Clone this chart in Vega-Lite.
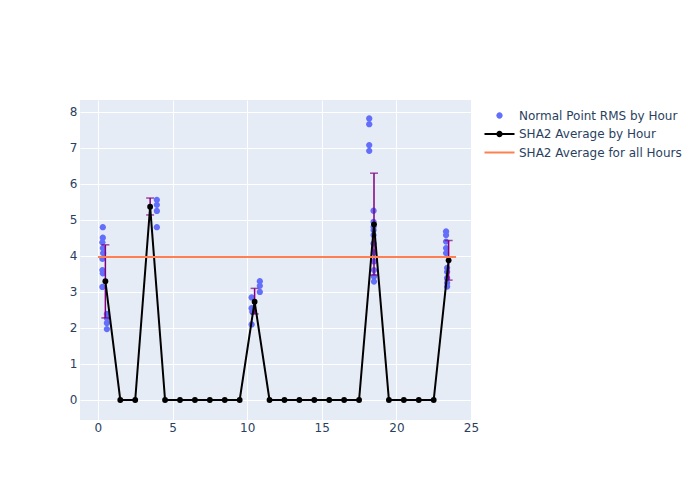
{
  "$schema": "https://vega.github.io/schema/vega-lite/v6.json",
  "width": 391,
  "height": 320,
  "autosize": {"type": "none"},
  "padding": {"left": 80, "top": 100, "right": 229, "bottom": 80},
  "background": "white",
  "config": {
    "view": {"fill": "#e5ecf6", "stroke": null},
    "font": "DejaVu Sans",
    "axis": {
      "domain": false, "ticks": false, "grid": true, "gridColor": "white", "gridWidth": 1, "gridOpacity": 1,
      "labelFont": "DejaVu Sans", "labelFontSize": 12, "labelColor": "#2a3f5f",
      "title": null, "labelOverlap": false
    },
    "legend": {
      "orient": "none", "legendX": 410, "legendY": 6, "title": null,
      "symbolSize": 361, "labelFontSize": 12, "labelColor": "#2a3f5f", "labelFont": "DejaVu Sans",
      "rowPadding": 2.5, "labelOffset": 10, "padding": 0, "symbolStrokeWidth": 0, "symbolOpacity": 1,
      "labelLimit": 300
    }
  },
  "datasets": {
    "points": [
      {"x": 0.33, "y": 4.8}, {"x": 0.33, "y": 4.51}, {"x": 0.3, "y": 4.38}, {"x": 0.33, "y": 4.22},
      {"x": 0.35, "y": 4.08}, {"x": 0.3, "y": 3.92}, {"x": 0.3, "y": 3.61}, {"x": 0.33, "y": 3.52},
      {"x": 0.3, "y": 3.14}, {"x": 0.6, "y": 2.39}, {"x": 0.6, "y": 2.28}, {"x": 0.6, "y": 2.14},
      {"x": 0.6, "y": 1.97},
      {"x": 3.95, "y": 5.56}, {"x": 3.95, "y": 5.42}, {"x": 3.95, "y": 5.25}, {"x": 3.95, "y": 4.8},
      {"x": 10.85, "y": 3.3}, {"x": 10.85, "y": 3.17}, {"x": 10.85, "y": 3.0}, {"x": 10.3, "y": 2.85},
      {"x": 10.3, "y": 2.55}, {"x": 10.35, "y": 2.45}, {"x": 10.3, "y": 2.1},
      {"x": 18.18, "y": 7.82}, {"x": 18.18, "y": 7.66}, {"x": 18.18, "y": 7.08}, {"x": 18.18, "y": 6.92},
      {"x": 18.47, "y": 5.26}, {"x": 18.47, "y": 4.95}, {"x": 18.47, "y": 4.81}, {"x": 18.47, "y": 4.72},
      {"x": 18.47, "y": 4.58}, {"x": 18.47, "y": 4.35}, {"x": 18.5, "y": 4.1}, {"x": 18.5, "y": 3.85},
      {"x": 18.5, "y": 3.61}, {"x": 18.5, "y": 3.43}, {"x": 18.5, "y": 3.29},
      {"x": 23.33, "y": 4.68}, {"x": 23.33, "y": 4.58}, {"x": 23.33, "y": 4.4}, {"x": 23.33, "y": 4.22},
      {"x": 23.33, "y": 4.08}, {"x": 23.4, "y": 3.67}, {"x": 23.4, "y": 3.56}, {"x": 23.4, "y": 3.39},
      {"x": 23.4, "y": 3.25}, {"x": 23.4, "y": 3.15}
    ],
    "avg": [
      {"x": 0.5, "y": 3.3, "lo": 2.28, "hi": 4.31},
      {"x": 1.5, "y": 0}, {"x": 2.5, "y": 0},
      {"x": 3.5, "y": 5.37, "lo": 5.14, "hi": 5.61},
      {"x": 4.5, "y": 0}, {"x": 5.5, "y": 0}, {"x": 6.5, "y": 0}, {"x": 7.5, "y": 0}, {"x": 8.5, "y": 0}, {"x": 9.5, "y": 0},
      {"x": 10.5, "y": 2.73, "lo": 2.39, "hi": 3.1},
      {"x": 11.5, "y": 0}, {"x": 12.5, "y": 0}, {"x": 13.5, "y": 0}, {"x": 14.5, "y": 0}, {"x": 15.5, "y": 0}, {"x": 16.5, "y": 0}, {"x": 17.5, "y": 0},
      {"x": 18.5, "y": 4.88, "lo": 3.47, "hi": 6.3},
      {"x": 19.5, "y": 0}, {"x": 20.5, "y": 0}, {"x": 21.5, "y": 0}, {"x": 22.5, "y": 0},
      {"x": 23.5, "y": 3.88, "lo": 3.33, "hi": 4.43}
    ],
    "overall": [{"x": 0, "y": 3.97}, {"x": 24, "y": 3.97}]
  },
  "encoding": {
    "x": {"type": "quantitative",
          "scale": {"domain": [-1.2, 25], "nice": false, "zero": false},
          "axis": {"values": [0, 5, 10, 15, 20, 25], "labelFlush": false, "grid": true, "labelPadding": 2}},
    "y": {"type": "quantitative",
          "scale": {"domain": [-0.556, 8.333], "nice": false, "zero": false},
          "axis": {"values": [0, 1, 2, 3, 4, 5, 6, 7, 8], "grid": true, "labelPadding": 3}}
  },
  "layer": [
    {
      "data": {"name": "points"},
      "transform": [{"calculate": "'Normal Point RMS by Hour'", "as": "series"}],
      "mark": {"type": "point", "filled": true, "size": 361, "opacity": 1},
      "encoding": {
        "x": {"field": "x"},
        "y": {"field": "y"},
        "color": {
          "field": "series", "type": "nominal",
          "scale": {"domain": ["Normal Point RMS by Hour", "SHA2 Average by Hour", "SHA2 Average for all Hours"],
                    "range": ["#636efa", "black", "#ff7f50"]}
        },
        "shape": {
          "field": "series", "type": "nominal",
          "scale": {"domain": ["Normal Point RMS by Hour", "SHA2 Average by Hour", "SHA2 Average for all Hours"],
                    "range": [
                      "M-0.33,0a0.33,0.33 0 1,1 0.66,0a0.33,0.33 0 1,1 -0.66,0Z",
                      "M-1.58,-0.105L1.58,-0.105L1.58,0.105L-1.58,0.105Z M-0.33,0a0.33,0.33 0 1,1 0.66,0a0.33,0.33 0 1,1 -0.66,0Z",
                      "M-1.58,-0.105L1.58,-0.105L1.58,0.105L-1.58,0.105Z"
                    ]}
        }
      }
    },
    {
      "mark": {"type": "rule", "color": "white", "strokeWidth": 2},
      "encoding": {"y": {"datum": 0}, "x": null}
    },
    {
      "mark": {"type": "rule", "color": "white", "strokeWidth": 2},
      "encoding": {"x": {"datum": 0}, "y": null}
    },
    {
      "data": {"name": "avg"},
      "transform": [{"filter": "isValid(datum.lo)"}],
      "mark": {"type": "rule", "color": "purple", "strokeWidth": 1.5},
      "encoding": {
        "x": {"field": "x"},
        "y": {"field": "lo"},
        "y2": {"field": "hi"}
      }
    },
    {
      "data": {"name": "avg"},
      "transform": [{"filter": "isValid(datum.lo)"}],
      "mark": {"type": "tick", "orient": "horizontal", "color": "purple", "thickness": 1.5, "size": 8},
      "encoding": {
        "x": {"field": "x"},
        "y": {"field": "lo"}
      }
    },
    {
      "data": {"name": "avg"},
      "transform": [{"filter": "isValid(datum.lo)"}],
      "mark": {"type": "tick", "orient": "horizontal", "color": "purple", "thickness": 1.5, "size": 8},
      "encoding": {
        "x": {"field": "x"},
        "y": {"field": "hi"}
      }
    },
    {
      "data": {"name": "avg"},
      "transform": [{"calculate": "'SHA2 Average by Hour'", "as": "series"}],
      "mark": {"type": "line", "strokeWidth": 2},
      "encoding": {
        "x": {"field": "x"},
        "y": {"field": "y"},
        "color": {"field": "series", "type": "nominal"}
      }
    },
    {
      "data": {"name": "avg"},
      "transform": [{"calculate": "'SHA2 Average by Hour'", "as": "series"}],
      "mark": {"type": "point", "filled": true, "size": 34, "opacity": 1, "shape": "circle"},
      "encoding": {
        "x": {"field": "x"},
        "y": {"field": "y"},
        "color": {"field": "series", "type": "nominal"}
      }
    },
    {
      "data": {"name": "overall"},
      "transform": [{"calculate": "'SHA2 Average for all Hours'", "as": "series"}],
      "mark": {"type": "line", "strokeWidth": 2},
      "encoding": {
        "x": {"field": "x"},
        "y": {"field": "y"},
        "color": {"field": "series", "type": "nominal"}
      }
    }
  ]
}
